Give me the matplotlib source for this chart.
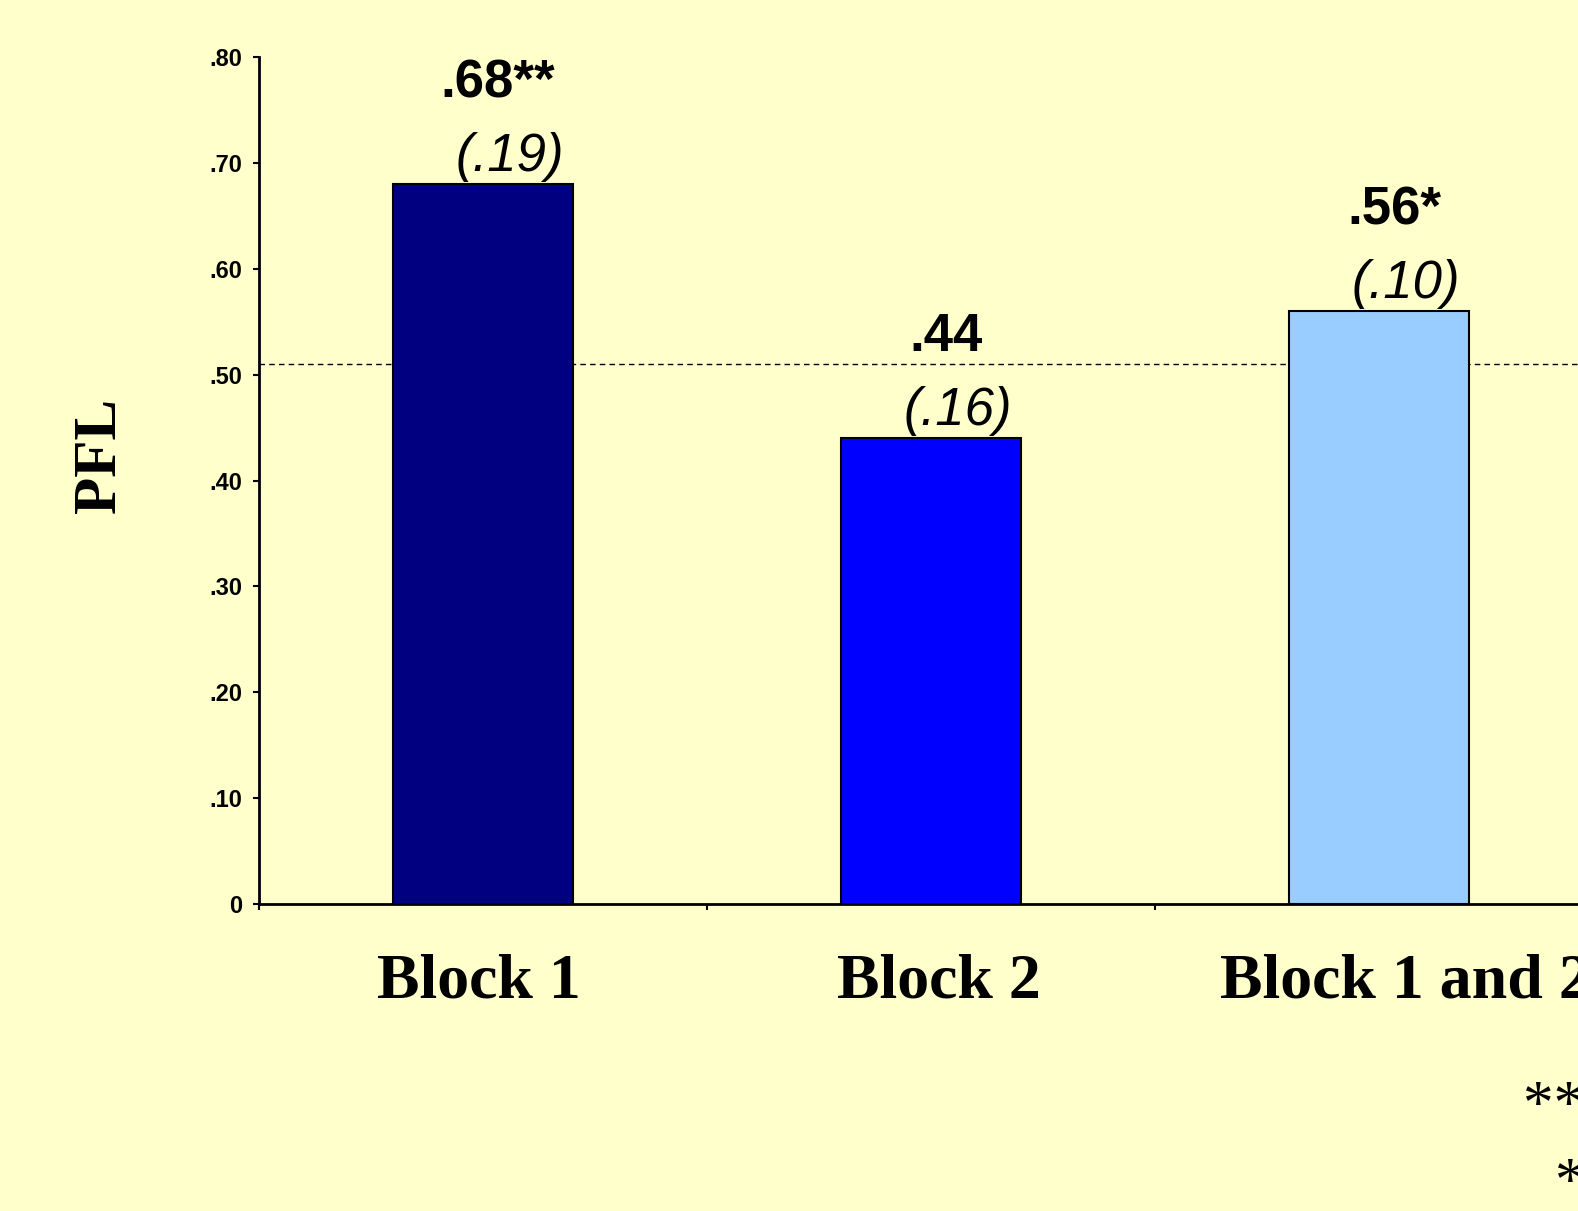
import matplotlib
matplotlib.use("Agg")
import matplotlib.pyplot as plt

categories = ["Block 1", "Block 2", "Block 1 and 2"]
means = [0.68, 0.44, 0.56]
mean_labels = [".68**", ".44", ".56*"]
sd_labels = ["(.19)", "(.16)", "(.10)"]
chance = 0.51
yticks = [0, 0.1, 0.2, 0.3, 0.4, 0.5, 0.6, 0.7, 0.8]
ytick_labels = ["0", ".10", ".20", ".30", ".40", ".50", ".60", ".70", ".80"]
footnotes = ["** p < .01", "* p < .05"]

colors = ["#000080", "#0000FF", "#99CCFF"]
bg = "#FFFFCC"
label_nudge = [-4, 8, 26]  # px, category label shifts as in the slide

W, H = 1578, 1211
fig = plt.figure(figsize=(W / 100, H / 100), dpi=100, facecolor=bg)
ax = fig.add_axes([259 / W, 1 - 904 / H, (1603 - 259) / W, (904 - 57) / H])
ax.set_facecolor(bg)

x = [i + 0.5 for i in range(len(categories))]
ax.bar(x, means, width=0.40, color=colors, edgecolor="black", linewidth=1.5, zorder=3)
ax.axhline(chance, color="black", linestyle=(0, (4, 3)), linewidth=1, zorder=2)

for xi, m, ml, sl in zip(x, means, mean_labels, sd_labels):
    ax.annotate(ml, (xi, m), xytext=(15, 101), textcoords="offset pixels",
                ha="center", va="center", fontsize=38, fontweight="bold",
                family="Liberation Sans")
    ax.annotate(sl, (xi, m), xytext=(27, 27), textcoords="offset pixels",
                ha="center", va="center", fontsize=38, fontstyle="italic",
                family="Liberation Sans")

for xi, cat, dx in zip(x, categories, label_nudge):
    ax.annotate(cat, (xi, 0), xytext=(dx, -79), textcoords="offset pixels",
                ha="center", va="center", fontsize=46, fontweight="bold",
                family="Liberation Serif", annotation_clip=False)

ax.set_xlim(0, 3)
ax.set_ylim(0, 0.8)
ax.set_yticks(yticks)
ax.set_yticklabels(ytick_labels, fontsize=17, fontweight="bold", family="Liberation Sans")
ax.set_xticks([0, 1, 2, 3])
ax.set_xticklabels([])
ax.tick_params(axis="both", which="major", length=4, width=1.5, direction="out")
ax.tick_params(axis="y", pad=8)

for s in ["top", "right"]:
    ax.spines[s].set_visible(False)
for s in ["left", "bottom"]:
    ax.spines[s].set_linewidth(2)

fig.text(100 / W, 1 - 455 / H, "PFL", rotation=90, ha="center", va="center",
         fontsize=44, fontweight="bold", family="Liberation Serif")

fig.text(1523 / W, 1 - 1122 / H, footnotes[0], ha="left", va="baseline",
         fontsize=44, family="Liberation Serif")
fig.text(1555 / W, 1 - 1199 / H, footnotes[1], ha="left", va="baseline",
         fontsize=44, family="Liberation Serif")

fig.savefig("out.png", dpi=100, facecolor=bg)
